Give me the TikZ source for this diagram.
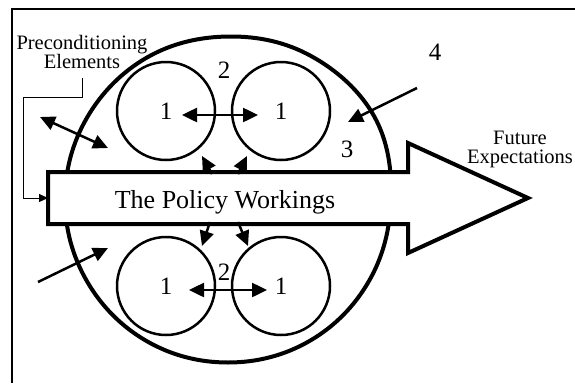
\documentclass[tikz,border=0pt]{standalone}
\usepackage{fontspec}
\setmainfont{Liberation Serif}
\usetikzlibrary{arrows.meta}
\begin{document}
\begin{tikzpicture}[x=1pt,y=-1pt,
  small/.style={circle,draw,line width=2.5pt,minimum size=98pt,inner sep=0pt,font=\fontsize{25}{25}\selectfont},
  bigline/.style={line width=4pt},
  con/.style={line width=2.5pt,-{Triangle[length=15pt,width=14pt]}},
  dcon/.style={line width=2.5pt,{Triangle[length=15pt,width=14pt]}-{Triangle[length=15pt,width=14pt]}},
  thin/.style={line width=1pt,-{Triangle[length=9pt,width=8pt]}},
  num/.style={font=\fontsize{25}{25}\selectfont,anchor=base,inner sep=0pt},
  lbl/.style={font=\fontsize{20.5}{19}\selectfont,align=center,inner sep=0pt}]
\useasboundingbox (0,0) rectangle (575,383);
% frame
\draw[line width=1.5pt] (12,383) -- (12,9) -- (575,9);
% big (hand-drawn) circle
\coordinate (bigc) at (228,199.5);
\draw[bigline] plot[smooth cycle,tension=0.64] coordinates {
  (229,36.5) (311,56) (374,116) (391,199) (369,281) (309.5,341)
  (228,362.5) (146.5,341) (86.8,281) (65,199.5) (86.8,118) (147,57.5)};
% small circles
\node[small] (ul) at (166,111) {1};
\node[small] (ur) at (281,111) {1};
\node[small] (ll) at (166,286) {1};
\node[small] (lr) at (281,286) {1};
% policy arrow
\draw[line width=4pt,fill=white,line join=miter]
  (48,172) -- (408,172) -- (408,143) -- (528,198) -- (408,253) -- (408,224) -- (48,224) -- cycle;
\node[font=\fontsize{26}{26}\selectfont,anchor=base,inner sep=0pt] (policy) at (225,208) {The Policy Workings};
\coordinate (shaftin) at (48,198);
% numbers
\node[num] (n2a) at (224,78) {2};
\node[num] (n2b) at (224,280) {2};
\node[num] (n3) at (347,157) {3};
\node[num] (n4) at (435,60) {4};
% labels
\node[lbl] (pre) at (82,51.5) {Preconditioning\\Elements};
\node[lbl] (future) at (520,149.5) {Future\\Expectations};
% arrows between circles
\coordinate (ua1) at (182,115); \coordinate (ua2) at (258,115);
\coordinate (la1) at (189,290); \coordinate (la2) at (267,290);
\draw[dcon] (ua1) -- (ua2);
\draw[dcon] (la1) -- (la2);
% shaft to circles
\coordinate (s1) at (212,174); \coordinate (h1) at (202,156);
\coordinate (s2) at (238,174); \coordinate (h2) at (247,156);
\coordinate (s3) at (210,222); \coordinate (h3) at (202,246);
\coordinate (s4) at (238,222); \coordinate (h4) at (248,246);
\draw[con] (s1) -- (h1);
\draw[con] (s2) -- (h2);
\draw[con] (s3) -- (h3);
\draw[con] (s4) -- (h4);
% outer arrows
\coordinate (o1) at (40,117); \coordinate (o2) at (108,148);
\coordinate (o3) at (38,282); \coordinate (o4) at (108,248);
\coordinate (o5) at (417,88); \coordinate (o6) at (348,122);
\draw[dcon] (o1) -- (o2);
\draw[con] (o3) -- (o4);
\draw[con] (o5) -- (o6);
% preconditioning connector
\coordinate (c1) at (23,97);
\draw[thin] ([yshift=-10pt]pre.south) |- (c1) |- (shaftin);
\end{tikzpicture}
\end{document}
